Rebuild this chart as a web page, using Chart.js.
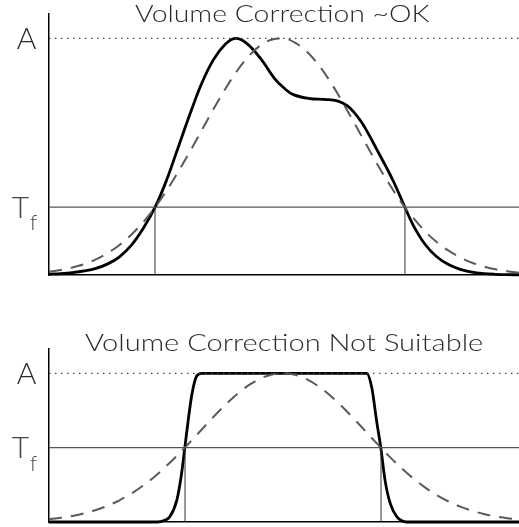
<!DOCTYPE html>
<html>
<head>
<meta charset="utf-8">
<script src="https://cdn.jsdelivr.net/npm/chart.js@4"></script>
<style>
  html, body { margin: 0; padding: 0; background: #fff; }
  #wrap { position: relative; width: 519px; height: 527px; background: #fff; }
  canvas { position: absolute; left: 0; }
</style>
</head>
<body>
<div id="wrap">
  <canvas id="c1" width="519" height="300" style="top:0"></canvas>
  <canvas id="c2" width="519" height="227" style="top:300px"></canvas>
</div>
<script>
// ---------- data ----------
const titles = ["Volume Correction ~OK", "Volume Correction Not Suitable"];
const levelLabels = ["A", "T", "f"];            // A, T with subscript f
const levelA = 1.0;
const topTf = 0.287;
const botTf = 0.5;

// dashed reference (gaussian) curves, sampled every 2.5 units
const gaussX = [0,2.5,5,7.5,10,12.5,15,17.5,20,22.5,25,27.5,30,32.5,35,37.5,40,42.5,45,47.5,50,
                52.5,55,57.5,60,62.5,65,67.5,70,72.5,75,77.5,80,82.5,85,87.5,90,92.5,95,97.5,100];
const topDash = [0.014,0.021,0.032,0.046,0.066,0.093,0.127,0.170,0.222,0.284,0.356,0.436,0.522,0.612,0.701,0.786,0.862,0.925,0.970,0.995,0.999,
                 0.980,0.941,0.884,0.812,0.729,0.641,0.551,0.463,0.381,0.306,0.241,0.185,0.139,0.103,0.074,0.052,0.036,0.024,0.016,0.010];
const botDash = [0.019,0.028,0.041,0.058,0.081,0.110,0.146,0.191,0.244,0.306,0.377,0.454,0.537,0.622,0.707,0.787,0.859,0.920,0.965,0.992,1.000,
                 0.988,0.957,0.909,0.846,0.772,0.690,0.605,0.520,0.438,0.362,0.293,0.233,0.181,0.138,0.103,0.076,0.054,0.038,0.026,0.018];

// solid measured curves
const topX = [0,2.5,5,7.5,10,12.5,15,17.5,20,22.6,25,27.5,30,32.5,35,37.5,39.6,42,45,48,50,52,55.5,58.5,61.5,
              63.5,65,66.5,68,69.7,71.5,73.3,75.7,77.5,80,82.5,85,87.5,90,92.5,95,97.5,100];
const topSolid = [0.004,0.006,0.010,0.017,0.028,0.047,0.077,0.125,0.195,0.2875,0.40,0.54,0.68,0.81,0.91,0.975,1.0,0.98,0.915,0.83,0.79,0.762,0.745,0.742,0.735,
                  0.715,0.685,0.645,0.595,0.532,0.465,0.395,0.2875,0.21,0.13,0.077,0.044,0.024,0.012,0.006,0.003,0.0015,0.001];
const botX = [0,23,24.5,25.7,27.2,28.2,28.9,29.6,30.4,31.4,32.5,67.6,68.7,69.7,70.6,71.5,72.6,74,75,76,100];
const botSolid = [0,0,0.01,0.035,0.147,0.325,0.5,0.68,0.858,0.98,1,1,0.9,0.68,0.5,0.28,0.125,0.035,0.01,0,0];

// threshold crossing positions (vertical markers)
const topCross = [22.55, 75.74];
const botCross = [28.94, 70.64];

// ---------- helpers ----------
const pts = (xs, ys) => xs.map((x, i) => ({ x: x, y: ys[i] }));
const FONT = 'Lato, Roboto, "DejaVu Sans", sans-serif';

function buildDatasets(solidX, solidY, dashY, tf, cross, smooth) {
  const ds = [];
  ds.push({ data: [{x:0,y:levelA},{x:100,y:levelA}], borderColor:'#444', borderWidth:1.2, borderDash:[1.5,4.5], tension:0 });
  ds.push({ data: [{x:0,y:tf},{x:100,y:tf}], borderColor:'#555', borderWidth:1.3, tension:0 });
  cross.forEach(c => ds.push({ data: [{x:c,y:0},{x:c,y:tf}], borderColor:'#333', borderWidth:1, tension:0 }));
  ds.push({ data: pts(gaussX, dashY), borderColor:'#5a5a5a', borderWidth:2, borderDash:[13,9], cubicInterpolationMode:'monotone', clip:false });
  const solid = { data: pts(solidX, solidY), borderColor:'#000', borderWidth:2.8, clip:false };
  if (smooth) { solid.tension = 0.4; } else { solid.cubicInterpolationMode = 'monotone'; }
  ds.push(solid);
  return ds;
}

function textPlugin(title, titleBox, tf) {
  return {
    id: 'labels',
    afterDraw(chart) {
      const ctx = chart.ctx;
      const ys = chart.scales.y;
      ctx.save();
      ctx.fillStyle = '#2a2a2a';
      // title, fitted to its box width
      ctx.font = '300 23px ' + FONT;
      ctx.textBaseline = 'alphabetic';
      ctx.textAlign = 'left';
      const m = ctx.measureText(title);
      const w = m.actualBoundingBoxLeft + m.actualBoundingBoxRight;
      const sx = titleBox.w / w;
      ctx.save();
      ctx.translate(titleBox.x, titleBox.base);
      ctx.scale(sx, 1);
      ctx.fillText(title, m.actualBoundingBoxLeft, 0);
      ctx.restore();
      // level labels
      ctx.font = '300 30px ' + FONT;
      const yA = ys.getPixelForValue(levelA);
      const yT = ys.getPixelForValue(tf);
      ctx.textAlign = 'center';
      ctx.fillText(levelLabels[0], 26.5, yA + 10.8);
      ctx.fillStyle = '#444';
      ctx.fillText(levelLabels[1], 20.5, yT + 10.5);
      ctx.font = '300 21px ' + FONT;
      ctx.fillText(levelLabels[2], 33.5, yT + 23);
      ctx.restore();
    }
  };
}

function makeChart(id, solidX, solidY, dashY, tf, cross, smooth, yMax, pad, title, titleBox) {
  return new Chart(document.getElementById(id), {
    type: 'line',
    data: { datasets: buildDatasets(solidX, solidY, dashY, tf, cross, smooth) },
    options: {
      responsive: false,
      animation: false,
      devicePixelRatio: 1,
      parsing: true,
      layout: { padding: pad },
      plugins: { legend: { display: false }, tooltip: { enabled: false }, title: { display: false } },
      elements: { point: { radius: 0 }, line: { fill: false } },
      scales: {
        x: { type: 'linear', min: 0, max: 100,
             grid: { display: false, drawTicks: false }, ticks: { display: false },
             border: { display: true, color: '#000', width: 1.6 } },
        y: { type: 'linear', min: 0, max: yMax,
             grid: { display: false, drawTicks: false }, ticks: { display: false },
             border: { display: true, color: '#000', width: 1.5 } }
      }
    },
    plugins: [textPlugin(title, titleBox, tf)]
  });
}

makeChart('c1', topX, topSolid, topDash, topTf, topCross, true, 1.1027,
  { left: 49, top: 14, right: 0, bottom: 25 }, titles[0], { x: 135, w: 295, base: 21.5 });
makeChart('c2', botX, botSolid, botDash, botTf, botCross, false, 1.1634,
  { left: 49, top: 49, right: 0, bottom: 5 }, titles[1], { x: 85, w: 397, base: 50.5 });
</script>
</body>
</html>
